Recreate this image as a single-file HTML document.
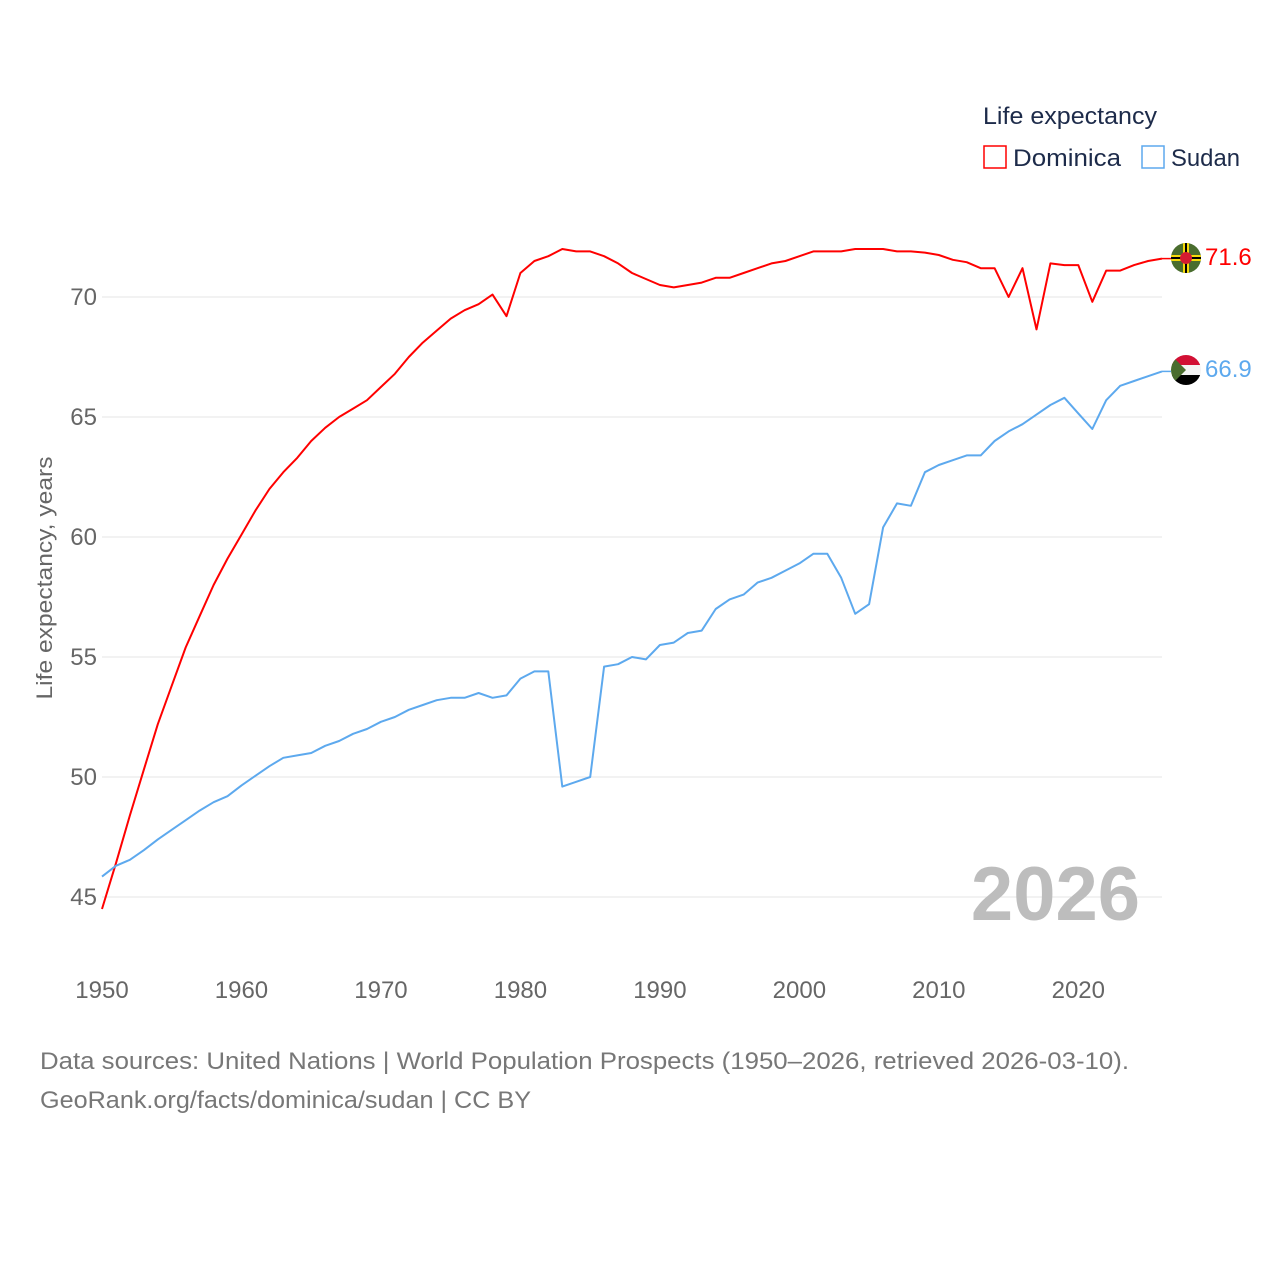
<!DOCTYPE html>
<html><head><meta charset="utf-8">
<style>
body{margin:0;background:#fff;}
svg{display:block;font-family:"Liberation Sans",sans-serif;}
</style></head>
<body>
<svg id="chart" width="1280" height="1280" viewBox="0 0 1280 1280" xmlns="http://www.w3.org/2000/svg">
  <g id="grid"></g>
  <g id="yticks"></g>
  <g id="xticks"></g>
  <text x="52" y="578" transform="rotate(-90 52 578)" text-anchor="middle" font-size="22" fill="#666" textLength="243" lengthAdjust="spacingAndGlyphs">Life expectancy, years</text>
  <text x="1140" y="920" text-anchor="end" font-size="76" font-weight="bold" fill="#bdbdbd">2026</text>
  <g id="series"></g>
  <g>
    <text x="983" y="124" font-size="24" fill="#1d2b4a" textLength="174" lengthAdjust="spacingAndGlyphs">Life expectancy</text>
    <g>
      <rect x="984" y="146" width="22" height="22" fill="none" stroke="#ff0000" stroke-width="1.5"/>
      <text x="1013" y="166" font-size="24" fill="#1d2b4a" textLength="108" lengthAdjust="spacingAndGlyphs">Dominica</text>
    </g>
    <g>
      <rect x="1142" y="146" width="22" height="22" fill="none" stroke="#5da9ee" stroke-width="1.5"/>
      <text x="1171" y="166" font-size="24" fill="#1d2b4a" textLength="69" lengthAdjust="spacingAndGlyphs">Sudan</text>
    </g>
  </g>
  <defs>
    <clipPath id="c1"><circle cx="1186" cy="258" r="15"/></clipPath>
    <clipPath id="c2"><circle cx="1186" cy="370" r="15"/></clipPath>
  </defs>
  <g clip-path="url(#c1)">
    <rect x="1170" y="242" width="32" height="32" fill="#4a6d2e"/>
    <rect x="1170" y="255" width="32" height="6" fill="#f5d90a"/>
    <rect x="1170" y="257" width="32" height="2" fill="#000"/>
    <rect x="1183" y="242" width="6" height="32" fill="#f5d90a"/>
    <rect x="1185" y="242" width="2" height="32" fill="#000"/>
    <circle cx="1186" cy="258" r="6" fill="#d41c30"/>
  </g>
  <g clip-path="url(#c2)">
    <rect x="1170" y="354" width="32" height="11" fill="#d21034"/>
    <rect x="1170" y="365" width="32" height="10" fill="#f4f4f4"/>
    <rect x="1170" y="375" width="32" height="11" fill="#000"/>
    <polygon points="1170,354 1186,370 1170,386" fill="#4a6d2e"/>
  </g>
  <text x="1205" y="265" font-size="24" fill="#ff0000">71.6</text>
  <text x="1205" y="377" font-size="24" fill="#5da9ee">66.9</text>
  <text x="40" y="1069" font-size="24" fill="#777" textLength="1089" lengthAdjust="spacingAndGlyphs">Data sources: United Nations | World Population Prospects (1950–2026, retrieved 2026-03-10).</text>
  <text x="40" y="1108" font-size="24" fill="#777" textLength="491" lengthAdjust="spacingAndGlyphs">GeoRank.org/facts/dominica/sudan | CC BY</text>
</svg>
<script>
const years = [];
for (let y = 1950; y <= 2026; y++) years.push(y);
const dominica = [44.5,46.4,48.4,50.3,52.2,53.8,55.4,56.7,58.0,59.1,60.1,61.1,62.0,62.7,63.3,64.0,64.55,65.0,65.35,65.7,66.25,66.8,67.5,68.1,68.6,69.1,69.45,69.7,70.1,69.2,71.0,71.5,71.7,72.0,71.9,71.9,71.7,71.4,71.0,70.75,70.5,70.4,70.5,70.6,70.8,70.8,71.0,71.2,71.4,71.5,71.7,71.9,71.9,71.9,72.0,72.0,72.0,71.9,71.9,71.85,71.75,71.55,71.45,71.2,71.2,70.0,71.2,68.65,71.4,71.33,71.33,69.8,71.1,71.1,71.33,71.5,71.6];
const sudan = [45.85,46.3,46.55,46.95,47.4,47.8,48.2,48.6,48.95,49.2,49.65,50.05,50.45,50.8,50.9,51.0,51.3,51.5,51.8,52.0,52.3,52.5,52.8,53.0,53.2,53.3,53.3,53.5,53.3,53.4,54.1,54.4,54.4,49.6,49.8,50.0,54.6,54.7,55.0,54.9,55.5,55.6,56.0,56.1,57.0,57.4,57.6,58.1,58.3,58.6,58.9,59.3,59.3,58.3,56.8,57.2,60.4,61.4,61.3,62.7,63.0,63.2,63.4,63.4,64.0,64.4,64.7,65.1,65.5,65.8,65.15,64.5,65.7,66.3,66.5,66.7,66.9];
const yTicks = [45,50,55,60,65,70];
const xTicks = [1950,1960,1970,1980,1990,2000,2010,2020];

const X0 = 102, X1 = 1162;
const xs = y => X0 + (y - 1950) * (X1 - X0) / 76;
const ys = v => 297 + (70 - v) * 24;
const NS = "http://www.w3.org/2000/svg";
function mk(tag, attrs, parent) {
  const e = document.createElementNS(NS, tag);
  for (const k in attrs) e.setAttribute(k, attrs[k]);
  parent.appendChild(e);
  return e;
}
const grid = document.getElementById('grid');
const yt = document.getElementById('yticks');
yTicks.forEach(v => {
  const l = mk('line', {x1: X0, x2: X1, y1: ys(v), y2: ys(v), stroke: '#e6e6e6', 'stroke-width': 1}, grid);
  
  
  const t = mk('text', {x: 97, y: ys(v) + 8, 'text-anchor': 'end', 'font-size': 24, fill: '#666'}, yt);
  t.textContent = v;
  
  
});
const xt = document.getElementById('xticks');
xTicks.forEach(y => {
  const t = mk('text', {x: xs(y), y: 998, 'text-anchor': 'middle', 'font-size': 24, fill: '#666'}, xt);
  t.textContent = y;
  
  
});
const ser = document.getElementById('series');
function line(data, color, name) {
  const d = data.map((v, i) => (i ? 'L' : 'M') + xs(years[i]).toFixed(1) + ',' + ys(v).toFixed(1)).join('');
  const p = mk('path', {d: d, fill: 'none', stroke: color, 'stroke-width': 2, 'stroke-linejoin': 'round'}, ser);
  
  
  const last = data[data.length - 1];
  mk('line', {x1: X1, x2: 1171, y1: ys(last), y2: ys(last), stroke: color, 'stroke-width': 1.5}, ser);
}
line(dominica, '#ff0000', 'dominica-line');
line(sudan, '#5da9ee', 'sudan-line');
</script>
</body></html>
